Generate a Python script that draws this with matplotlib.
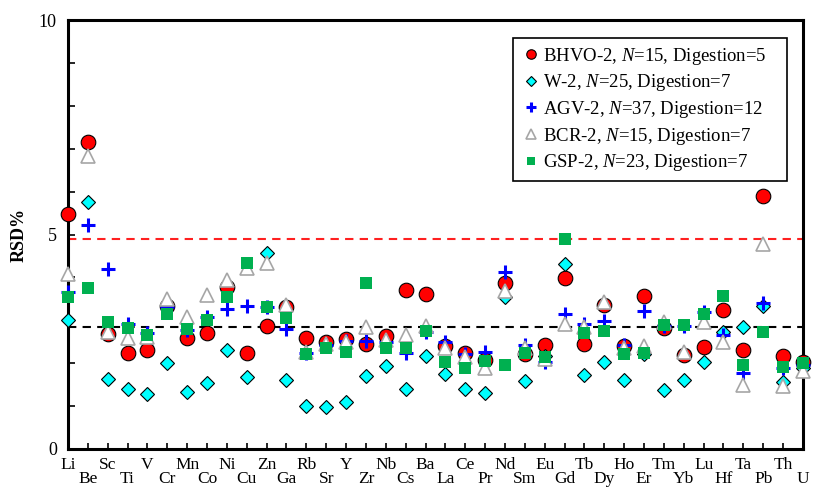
import matplotlib
matplotlib.use('Agg')
import matplotlib.pyplot as plt
import numpy as np

plt.rcParams['font.family'] = ['Liberation Serif', 'DejaVu Serif']
plt.rcParams['mathtext.fontset'] = 'custom'
plt.rcParams['mathtext.rm'] = 'Liberation Serif'
plt.rcParams['mathtext.it'] = 'Liberation Serif:italic'

# 元素
elements = ['Li', 'Be', 'Sc', 'Ti', 'V', 'Cr', 'Mn', 'Co', 'Ni', 'Cu', 'Zn', 'Ga', 'Rb', 'Sr',
            'Y', 'Zr', 'Nb', 'Cs', 'Ba', 'La', 'Ce', 'Pr', 'Nd', 'Sm', 'Eu', 'Gd', 'Tb', 'Dy',
            'Ho', 'Er', 'Tm', 'Yb', 'Lu', 'Hf', 'Ta', 'Pb', 'Th', 'U']

# RSD% 数据
bhvo2 = [5.49, 7.15, 2.68, 2.23, 2.31, 3.33, 2.60, 2.70, 3.78, 2.25, 2.87, 3.30, 2.60, 2.50,
         2.56, 2.44, 2.64, 3.71, 3.61, 2.40, 2.23, 2.07, 3.86, 2.21, 2.42, 3.99, 2.44, 3.36,
         2.41, 3.57, 2.81, 2.19, 2.37, 3.24, 2.32, 5.90, 2.17, 2.04]
w2 = [3.01, 5.75, 1.63, 1.40, 1.28, 2.00, 1.34, 1.55, 2.32, 1.67, 4.58, 1.61, 1.00, 0.97,
      1.10, 1.70, 1.93, 1.40, 2.18, 1.74, 1.40, 1.30, 3.55, 1.58, 2.17, 4.31, 1.72, 2.02,
      1.61, 2.22, 1.38, 1.62, 2.02, 2.72, 2.85, 3.33, 1.57, 1.90]
agv2 = [3.67, 5.22, 4.19, 2.92, 2.70, 3.32, 2.78, 3.08, 3.26, 3.33, 3.31, 2.79, 2.25, 2.42,
        2.52, 2.52, 2.50, 2.25, 2.72, 2.49, 2.21, 2.27, 4.13, 2.42, 2.02, 3.14, 2.91, 2.99,
        2.42, 3.22, 2.87, 2.87, 3.20, 2.67, 1.78, 3.40, 1.90, 1.95]
bcr2 = [4.08, 6.83, 2.73, 2.58, 2.62, 3.49, 3.08, 3.59, 3.95, 4.21, 4.34, 3.36, 2.27, 2.46,
        2.50, 2.85, 2.55, 2.66, 2.87, 2.36, 2.15, 1.90, 3.69, 2.36, 2.10, 2.91, 2.85, 3.43,
        2.36, 2.41, 2.97, 2.27, 2.97, 2.49, 1.49, 4.78, 1.47, 1.83]
gsp2 = [3.55, 3.76, 2.97, 2.83, 2.66, 3.15, 2.79, 3.01, 3.55, 4.34, 3.32, 3.06, 2.21, 2.36,
        2.27, 3.88, 2.36, 2.36, 2.75, 2.02, 1.90, 2.06, 1.97, 2.25, 2.15, 4.90, 2.70, 2.76,
        2.21, 2.23, 2.89, 2.89, 3.14, 3.57, 1.97, 2.72, 1.92, 2.00]

# 参考线
red_line = 4.9
black_line = 2.84

x = np.arange(len(elements))

fig = plt.figure(figsize=(8.16, 4.92), dpi=100)
ax = fig.add_axes([0.0833, 0.0874, 0.9007, 0.8716])

ax.axhline(red_line, color='#ff2020', ls=(0, (4, 3)), lw=1.5, zorder=1)
ax.axhline(black_line, color='black', ls=(0, (4, 3)), lw=1.5, zorder=1)

ax.plot(x, bhvo2, 'o', ms=10.5, mfc='#ff0000', mec='black', mew=0.8, clip_on=False, zorder=3,
        label='BHVO-2, $\\mathit{N}$=15, Digestion=5')
ax.plot(x, w2, 'D', ms=7.5, mfc='#00ffff', mec='black', mew=0.8, clip_on=False, zorder=4,
        label='W-2, $\\mathit{N}$=25, Digestion=7')
ax.plot(x, agv2, '+', ms=10, mec='#0000ff', mew=2.2, clip_on=False, zorder=5,
        label='AGV-2, $\\mathit{N}$=37, Digestion=12')
ax.plot(x, bcr2, '^', ms=10, mfc='white', mec='#a6a6a6', mew=1.2, clip_on=False, zorder=6,
        label='BCR-2, $\\mathit{N}$=15, Digestion=7')
ax.plot(x, gsp2, 's', ms=8, mfc='#00b050', mec='#00b050', mew=0, clip_on=False, zorder=7,
        label='GSP-2, $\\mathit{N}$=23, Digestion=7')

ax.set_xlim(0, len(elements) - 1)
ax.set_ylim(0, 10)

# 标签交错排列：偶数位放主刻度，奇数位放次刻度（标签下移一行）
ax.set_xticks(x[::2])
ax.set_xticklabels(elements[::2], fontsize=12.5)
ax.set_xticks(x[1::2], minor=True)
ax.set_xticklabels(elements[1::2], minor=True, fontsize=12.5)
ax.tick_params(axis='x', which='major', direction='in', length=4, width=1.2, pad=6)
ax.tick_params(axis='x', which='minor', direction='in', length=4, width=1.2, pad=15.5)

ax.set_yticks([0, 5, 10])
ax.set_yticks(np.arange(0, 11, 1), minor=True)
ax.tick_params(axis='y', which='both', direction='in', length=5, width=1.2, labelsize=13, pad=8)

for s in ax.spines.values():
    s.set_linewidth(2.2)

ax.set_ylabel('RSD%', fontsize=13, fontweight='bold', labelpad=8)

leg = ax.legend(loc='upper left', bbox_to_anchor=(0.6054, 0.5, 0.3728, 0.458), mode='expand',
                borderaxespad=0, fontsize=13.5, handlelength=1.1, handletextpad=0.1,
                markerscale=0.65, fancybox=False, framealpha=1, edgecolor='black',
                borderpad=0.4, labelspacing=0.3)
leg.get_frame().set_linewidth(1.2)

fig.savefig('out.png', dpi=100)
